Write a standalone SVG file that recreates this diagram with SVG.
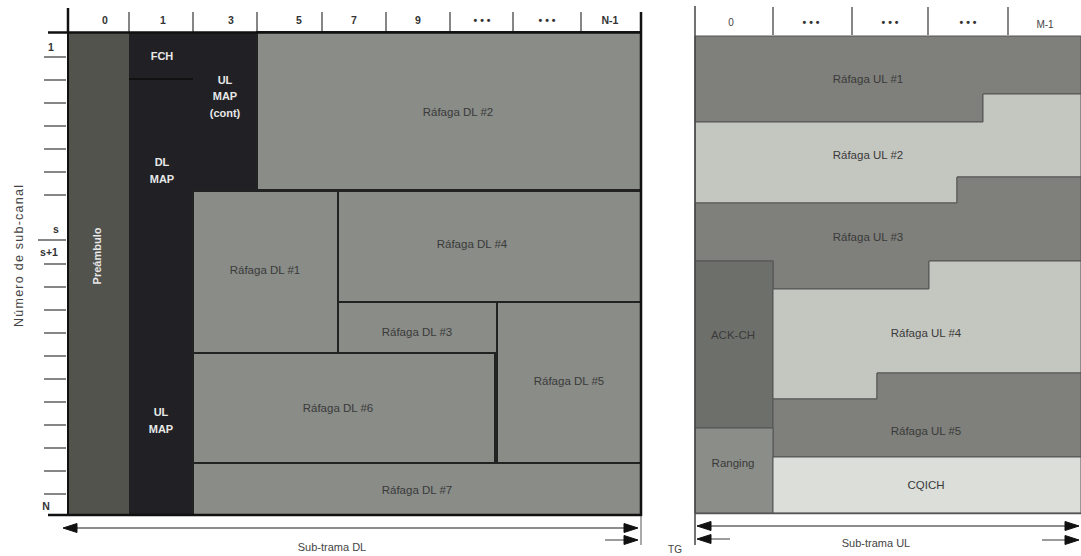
<svg xmlns="http://www.w3.org/2000/svg" width="1081" height="556" viewBox="0 0 1081 556">
<defs>
<style>
.lbl{font-family:"Liberation Sans",Arial,sans-serif;font-size:11.5px;fill:#3a3a3a;text-anchor:middle;dominant-baseline:central}
.wl{font-family:"Liberation Sans",Arial,sans-serif;font-size:11px;font-weight:bold;fill:#e8e8e8;text-anchor:middle;dominant-baseline:central}
.hd{font-family:"Liberation Sans",Arial,sans-serif;font-size:10.5px;font-weight:bold;fill:#333;text-anchor:middle;dominant-baseline:central}
.ax{font-family:"Liberation Sans",Arial,sans-serif;font-size:11px;fill:#444;text-anchor:middle;dominant-baseline:central}
.dl{fill:#898c87;stroke:#222;stroke-width:2}
.dk{fill:#212125}
.uld{fill:#7f807b;stroke:#555;stroke-width:1}
.ull{fill:#c4c6c0;stroke:#555;stroke-width:1}
.tick{stroke:#444;stroke-width:1.3}
.arr{stroke:#666;stroke-width:1.3;fill:none}
.head{fill:#111;stroke:#111;stroke-width:1}
</style>
</defs>
<rect x="0" y="0" width="1081" height="556" fill="#fff"/>

<!-- LEFT PANEL (DL) -->
<g id="dl-header">
<line x1="68" y1="8" x2="68" y2="33" stroke="#111" stroke-width="2.5"/>
<line class="tick" x1="129" y1="12" x2="129" y2="32"/>
<line class="tick" x1="193" y1="12" x2="193" y2="32"/>
<line class="tick" x1="257" y1="12" x2="257" y2="32"/>
<line class="tick" x1="322" y1="12" x2="322" y2="32"/>
<line class="tick" x1="386" y1="12" x2="386" y2="32"/>
<line class="tick" x1="450" y1="12" x2="450" y2="32"/>
<line class="tick" x1="513" y1="12" x2="513" y2="32"/>
<line class="tick" x1="581" y1="12" x2="581" y2="32"/>
<text class="hd" x="105" y="20">0</text>
<text class="hd" x="163" y="20">1</text>
<text class="hd" x="231" y="20">3</text>
<text class="hd" x="299" y="20">5</text>
<text class="hd" x="354" y="20">7</text>
<text class="hd" x="418" y="20">9</text>
<text class="hd" x="482" y="20">• • •</text>
<text class="hd" x="547" y="20">• • •</text>
<text class="hd" x="610" y="20">N-1</text>
</g>

<g id="dl-axis">
<line class="tick" x1="44" y1="57" x2="66" y2="57"/>
<line class="tick" x1="44" y1="80" x2="66" y2="80"/>
<line class="tick" x1="44" y1="103" x2="66" y2="103"/>
<line class="tick" x1="44" y1="126" x2="66" y2="126"/>
<line class="tick" x1="44" y1="149" x2="66" y2="149"/>
<line class="tick" x1="44" y1="172" x2="66" y2="172"/>
<line class="tick" x1="44" y1="195" x2="66" y2="195"/>
<line class="tick" x1="38" y1="240" x2="66" y2="240"/>
<line class="tick" x1="44" y1="264" x2="66" y2="264"/>
<line class="tick" x1="44" y1="287" x2="66" y2="287"/>
<line class="tick" x1="44" y1="310" x2="66" y2="310"/>
<line class="tick" x1="44" y1="333" x2="66" y2="333"/>
<line class="tick" x1="44" y1="356" x2="66" y2="356"/>
<line class="tick" x1="44" y1="379" x2="66" y2="379"/>
<line class="tick" x1="44" y1="402" x2="66" y2="402"/>
<line class="tick" x1="44" y1="425" x2="66" y2="425"/>
<line class="tick" x1="44" y1="448" x2="66" y2="448"/>
<line class="tick" x1="44" y1="471" x2="66" y2="471"/>
<line class="tick" x1="44" y1="494" x2="66" y2="494"/>
<text class="hd" x="51" y="47">1</text>
<text class="hd" x="56" y="229">s</text>
<text class="hd" x="49" y="252">s+1</text>
<text class="hd" x="46" y="506">N</text>
<text class="ax" transform="translate(19,256) rotate(-90)" style="font-size:12.5px" textLength="142" lengthAdjust="spacing">Número de sub-canal</text>
</g>

<g id="preambulo">
<rect x="68" y="32" width="61" height="483" fill="#53534e"/>
<text class="wl" transform="translate(97,256) rotate(-90)">Preámbulo</text>
</g>
<g id="fch">
<rect class="dk" x="129" y="32" width="64" height="47"/>
<text class="wl" x="162" y="56">FCH</text>
</g>
<g id="dl-map">
<rect class="dk" x="129" y="79" width="64" height="276"/>
<line x1="129" y1="79" x2="193" y2="79" stroke="#111" stroke-width="2"/>
<text class="wl" x="162" y="162">DL</text>
<text class="wl" x="162" y="179">MAP</text>
</g>
<g id="ul-map-cont">
<rect class="dk" x="193" y="32" width="64" height="158"/>
<text class="wl" x="225" y="80">UL</text>
<text class="wl" x="225" y="96">MAP</text>
<text class="wl" x="225" y="113">(cont)</text>
</g>
<g id="ul-map">
<rect class="dk" x="129" y="355" width="64" height="160"/>
<text class="wl" x="161" y="412">UL</text>
<text class="wl" x="161" y="429">MAP</text>
</g>
<g id="dl2">
<rect class="dl" x="257" y="32" width="384" height="158"/>
<text class="lbl" x="458" y="112">Ráfaga DL #2</text>
</g>
<g id="dl1">
<rect class="dl" x="193" y="191" width="145" height="162"/>
<text class="lbl" x="265" y="270">Ráfaga DL #1</text>
</g>
<g id="dl4">
<rect class="dl" x="338" y="191" width="303" height="111"/>
<text class="lbl" x="472" y="244">Ráfaga DL #4</text>
</g>
<g id="dl3">
<rect class="dl" x="338" y="302" width="159" height="51"/>
<text class="lbl" x="417" y="332">Ráfaga DL #3</text>
</g>
<g id="dl5">
<rect class="dl" x="497" y="302" width="144" height="161"/>
<text class="lbl" x="569" y="381">Ráfaga DL #5</text>
</g>
<g id="dl6">
<rect class="dl" x="193" y="353" width="302" height="110"/>
<text class="lbl" x="338" y="408">Ráfaga DL #6</text>
</g>
<g id="dl7">
<rect class="dl" x="193" y="463" width="448" height="52"/>
<text class="lbl" x="417" y="490">Ráfaga DL #7</text>
</g>

<g id="dl-frame">
<line x1="48" y1="32.5" x2="642" y2="32.5" stroke="#111" stroke-width="2.5"/>
<line x1="68" y1="32" x2="68" y2="516" stroke="#111" stroke-width="2"/>
<line x1="48" y1="515" x2="642" y2="515" stroke="#111" stroke-width="2.5"/>
<line x1="641" y1="12" x2="641" y2="516" stroke="#111" stroke-width="2.5"/>
<line x1="641" y1="516" x2="641" y2="545" stroke="#555" stroke-width="1"/>
</g>

<!-- RIGHT PANEL (UL) -->
<g id="ul-header">
<line class="tick" x1="773" y1="7" x2="773" y2="35"/>
<line class="tick" x1="852" y1="7" x2="852" y2="35"/>
<line class="tick" x1="928" y1="7" x2="928" y2="35"/>
<line class="tick" x1="1008" y1="7" x2="1008" y2="35"/>
<text class="ax" x="731" y="22" style="font-size:10px">0</text>
<text class="hd" x="811" y="22">• • •</text>
<text class="hd" x="890" y="22">• • •</text>
<text class="hd" x="968" y="22">• • •</text>
<text class="ax" x="1045" y="24" style="font-size:10px">M-1</text>
</g>

<g id="ul1">
<path class="uld" d="M695,36 H1081 V94 H983 V122 H695 Z"/>
<text class="lbl" x="868" y="79">Ráfaga UL #1</text>
</g>
<g id="ul2">
<path class="ull" d="M695,122 H983 V94 H1081 V177 H957 V203 H695 Z"/>
<text class="lbl" x="868" y="155">Ráfaga UL #2</text>
</g>
<g id="ul3">
<path class="uld" d="M695,203 H957 V177 H1081 V261 H929 V289 H773 V261 H695 Z"/>
<text class="lbl" x="868" y="237">Ráfaga UL #3</text>
</g>
<g id="ack-ch">
<rect x="695" y="261" width="78" height="167" fill="#6d6f6a" stroke="#555" stroke-width="1"/>
<text class="lbl" x="733" y="335">ACK-CH</text>
</g>
<g id="ul4">
<path class="ull" d="M773,289 H929 V261 H1081 V373 H877 V399 H773 Z"/>
<text class="lbl" x="926" y="333">Ráfaga UL #4</text>
</g>
<g id="ul5">
<path class="uld" d="M773,399 H877 V373 H1081 V457 H773 Z"/>
<text class="lbl" x="926" y="431">Ráfaga UL #5</text>
</g>
<g id="ranging">
<rect x="695" y="428" width="78" height="85" fill="#8b8d89" stroke="#555" stroke-width="1"/>
<text class="lbl" x="733" y="463">Ranging</text>
</g>
<g id="cqich">
<rect x="773" y="457" width="308" height="56" fill="#dcdeda" stroke="#555" stroke-width="1"/>
<text class="lbl" x="926" y="485">CQICH</text>
</g>
<g id="ul-frame">
<line x1="695" y1="6" x2="695" y2="545" stroke="#444" stroke-width="1.5"/>
<line x1="695" y1="513.5" x2="1081" y2="513.5" stroke="#555" stroke-width="1.5"/>
</g>

<!-- CONNECTORS / DIMENSION ARROWS -->
<g id="connectors">
<line class="arr" x1="70" y1="528" x2="630" y2="528"/>
<polygon class="head" points="63,528 77,523.5 77,532.5"/>
<polygon class="head" points="638,528 624,523.5 624,532.5"/>
<line class="arr" x1="605" y1="540" x2="630" y2="540"/>
<polygon class="head" points="638,540 624,535.5 624,544.5"/>
<line class="arr" x1="704" y1="526" x2="1072" y2="526"/>
<polygon class="head" points="697,526 711,521.5 711,530.5"/>
<polygon class="head" points="1079,526 1065,521.5 1065,530.5"/>
<line class="arr" x1="704" y1="539" x2="730" y2="539"/>
<polygon class="head" points="697,539 711,534.5 711,543.5"/>
<line class="arr" x1="1042" y1="540" x2="1072" y2="540"/>
<polygon class="head" points="1079,540 1065,535.5 1065,544.5"/>
</g>

<g id="bottom-labels">
<text class="ax" x="332" y="547">Sub-trama DL</text>
<text class="ax" x="675" y="549" style="font-size:10px">TG</text>
<text class="ax" x="876" y="543">Sub-trama UL</text>
</g>
</svg>
